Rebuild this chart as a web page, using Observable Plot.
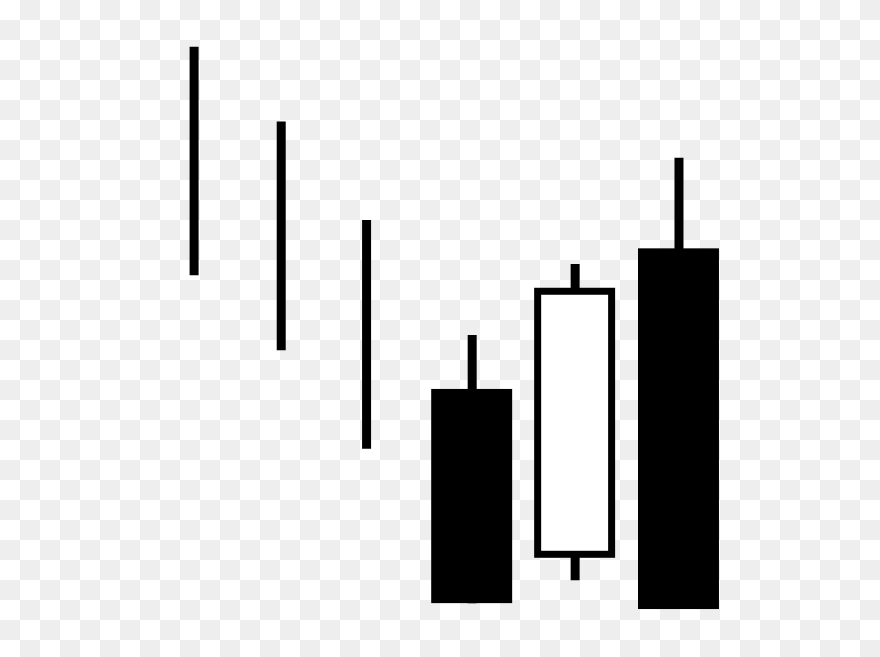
<!DOCTYPE html>
<html>
<head>
<meta charset="utf-8">
<script src="https://cdn.jsdelivr.net/npm/d3@7"></script>
<script src="https://cdn.jsdelivr.net/npm/@observablehq/plot@0.6"></script>
<style>
  html, body { margin: 0; padding: 0; }
  body {
    width: 880px; height: 657px; overflow: hidden;
    background: repeating-conic-gradient(#eeeeee 0 25%, #ffffff 0 50%) 0 0 / 40px 40px;
  }
  #chart svg { display: block; background: transparent; }
</style>
</head>
<body>
<div id="chart"></div>
<script>
// Candle positions (time units) and price values
const days  = [2.20, 3.19, 4.16, 5.36, 6.53, 7.71];
const high  = [92.9, 81.5, 66.5, 49.0, 59.8, 76.0];
const low   = [58.1, 46.7, 31.7,  8.2, 11.7,  7.3];
const open  = [null, null, null, 40.8, 15.1, 62.2];
const close = [null, null, null,  8.2, 56.2,  7.3];

const BODY_HALF = 0.46; // half candle-body width in time units

const candles = days.map((d, i) => ({
  day: d, high: high[i], low: low[i], open: open[i], close: close[i]
}));
const bodies = candles.filter(c => c.open != null);
const downBodies = bodies.filter(c => c.close < c.open);
const upBodies = bodies.filter(c => c.close > c.open);

const chart = Plot.plot({
  width: 880,
  height: 657,
  margin: 0,
  style: { background: "transparent", overflow: "visible" },
  x: { axis: null, domain: [0, 10] },
  y: { axis: null, domain: [0, 100] },
  marks: [
    Plot.ruleX(candles, { x: "day", y1: "low", y2: "high", stroke: "#000", strokeWidth: 9 }),
    Plot.rect(downBodies, {
      x1: d => d.day - BODY_HALF,
      x2: d => d.day + BODY_HALF,
      y1: "open",
      y2: "close",
      fill: "#000000"
    }),
    Plot.rect(upBodies, {
      x1: d => d.day - BODY_HALF,
      x2: d => d.day + BODY_HALF,
      y1: "open",
      y2: "close",
      fill: "#ffffff",
      stroke: "#000",
      strokeWidth: 7,
      inset: 3.5
    })
  ]
});
document.getElementById("chart").append(chart);
</script>
</body>
</html>
